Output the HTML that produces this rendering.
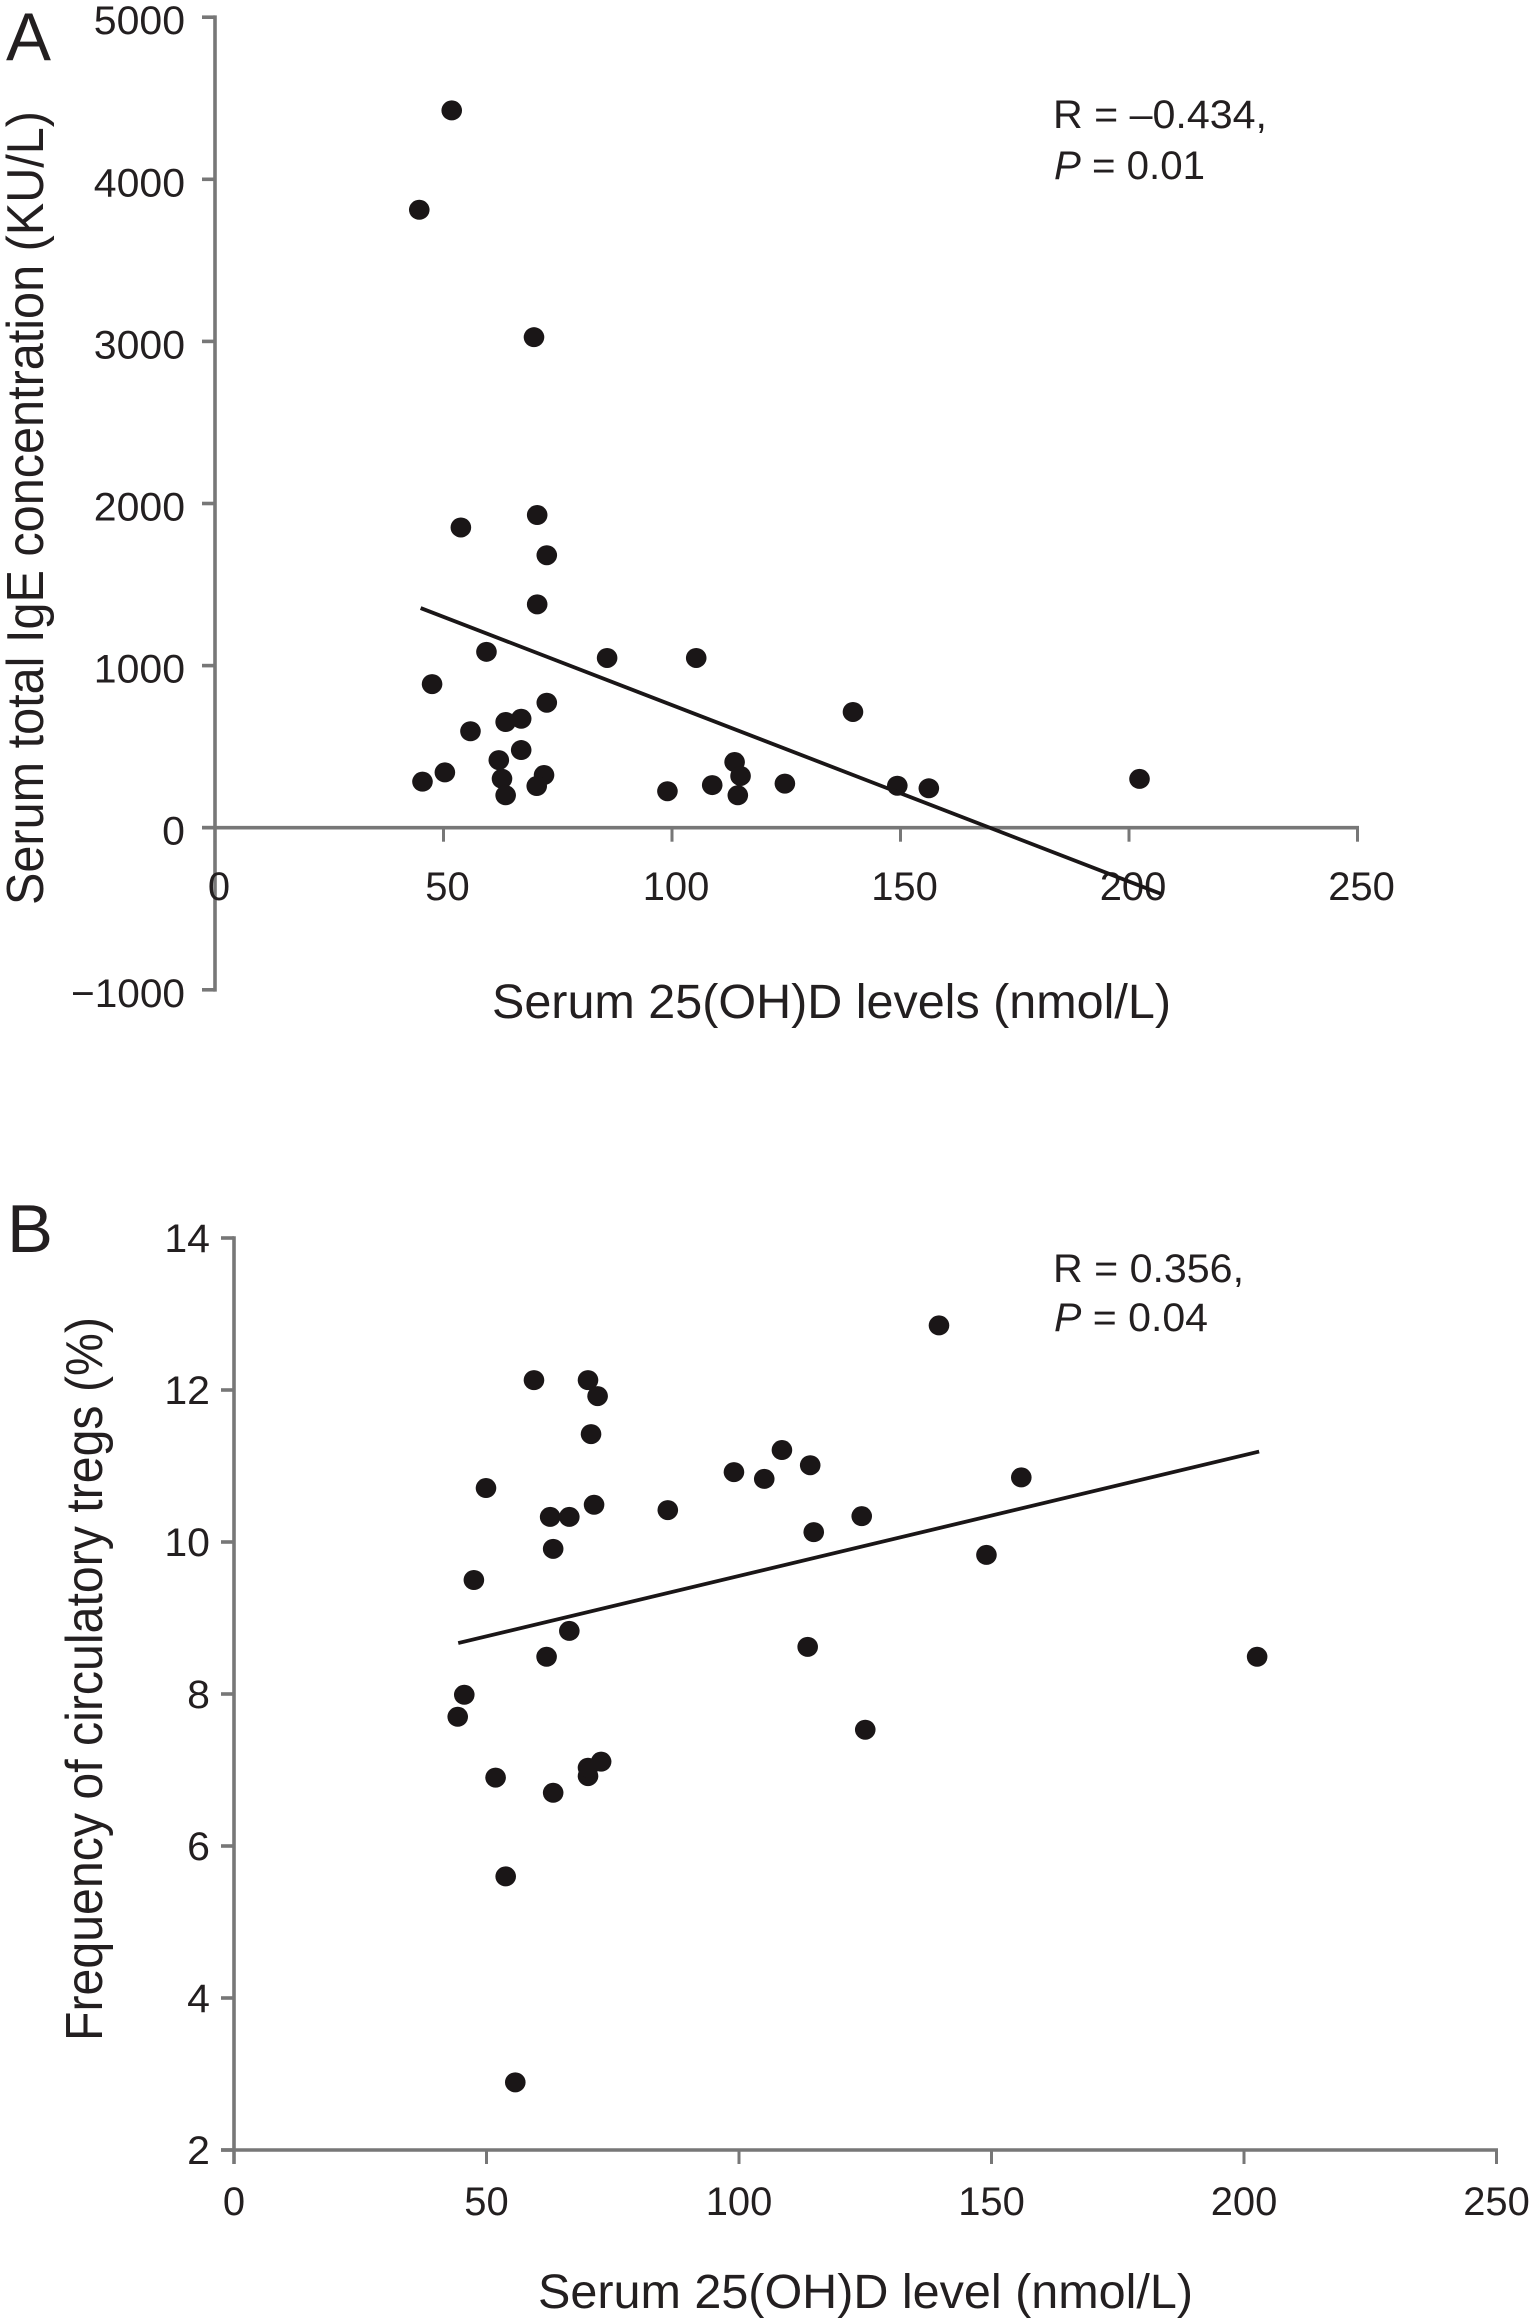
<!DOCTYPE html>
<html lang="en">
<head>
<meta charset="utf-8">
<title>Serum 25(OH)D correlations</title>
<style>
html,body{margin:0;padding:0;background:#fff;width:1531px;height:2321px;overflow:hidden}
svg{display:block}
text{font-family:"Liberation Sans",Arial,sans-serif;fill:#231f20}
</style>
</head>
<body>
<svg id="figure" xmlns="http://www.w3.org/2000/svg" width="1531" height="2321" viewBox="0 0 1531 2321">
  <rect width="1531" height="2321" fill="#fff"/>

  <g id="panelA">
    <text x="6" y="60" font-size="68" textLength="45" lengthAdjust="spacingAndGlyphs">A</text>
    <text transform="translate(43,905) rotate(-90)" font-size="52" textLength="794" lengthAdjust="spacingAndGlyphs">Serum total IgE concentration (KU/L)</text>
    <text x="492" y="1018" font-size="48" textLength="679" lengthAdjust="spacingAndGlyphs">Serum 25(OH)D levels (nmol/L)</text>
    <text x="1053" y="128" font-size="40" textLength="214" lengthAdjust="spacingAndGlyphs">R = –0.434,</text>
    <text x="1054" y="179" font-size="40" textLength="151" lengthAdjust="spacingAndGlyphs"><tspan font-style="italic">P</tspan> = 0.01</text>
  </g>

  <g id="panelB">
    <text x="7" y="1252" font-size="68" textLength="46" lengthAdjust="spacingAndGlyphs">B</text>
    <text transform="translate(102,2041) rotate(-90)" font-size="52" textLength="724" lengthAdjust="spacingAndGlyphs">Frequency of circulatory tregs (%)</text>
    <text x="538" y="2308" font-size="48" textLength="655" lengthAdjust="spacingAndGlyphs">Serum 25(OH)D level (nmol/L)</text>
    <text x="1053" y="1282" font-size="40" textLength="191" lengthAdjust="spacingAndGlyphs">R = 0.356,</text>
    <text x="1054" y="1331" font-size="40" textLength="154" lengthAdjust="spacingAndGlyphs"><tspan font-style="italic">P</tspan> = 0.04</text>
  </g>
</svg>

<script>
// Panel A data
const aXTicks = [0, 50, 100, 150, 200, 250];
const aXTickLabels = ["0", "50", "100", "150", "200", "250"];
const aYTicks = [-1000, 0, 1000, 2000, 3000, 4000, 5000];
const aYTickLabels = ["−1000", "0", "1000", "2000", "3000", "4000", "5000"];
const aVitaminD = [51.8, 44.7, 69.8, 70.5, 53.8, 72.6, 70.5, 59.4, 85.8, 105.3, 47.5, 72.6, 67, 63.6, 55.9, 67, 62.1, 50.3, 45.4, 62.8, 72, 70.4, 63.6, 99, 108.8, 113.7, 115, 114.4, 124.7, 139.6, 149.3, 156.2, 202.3];
const aIgE = [4425, 3812, 3026, 1929, 1852, 1681, 1378, 1085, 1047, 1047, 886, 771, 672, 652, 595, 479, 417, 341, 284, 302, 325, 257, 200, 225, 263, 405, 319, 200, 272, 714, 259, 243, 301];
const aTrendX = [45, 207];
const aTrendY = [1355, -408];

// Panel B data
const bXTicks = [0, 50, 100, 150, 200, 250];
const bXTickLabels = ["0", "50", "100", "150", "200", "250"];
const bYTicks = [2, 4, 6, 8, 10, 12, 14];
const bYTickLabels = ["2", "4", "6", "8", "10", "12", "14"];
const bVitaminD = [59.4, 70.1, 72, 70.7, 49.9, 71.3, 62.6, 66.4, 85.9, 63.2, 47.5, 66.4, 61.9, 45.6, 44.3, 99, 105, 51.8, 63.2, 70.1, 70.1, 72.7, 53.8, 55.7, 139.6, 108.5, 114.1, 155.9, 124.3, 114.8, 149, 113.6, 202.6, 125];
const bTregs = [12.13, 12.13, 11.92, 11.42, 10.71, 10.49, 10.33, 10.33, 10.42, 9.91, 9.5, 8.83, 8.49, 7.99, 7.7, 10.92, 10.83, 6.9, 6.7, 6.92, 7.03, 7.11, 5.6, 2.89, 12.85, 11.21, 11.01, 10.85, 10.34, 10.13, 9.83, 8.62, 8.49, 7.53];
const bTrendX = [44.4, 203];
const bTrendY = [8.67, 11.19];

const NS = "http://www.w3.org/2000/svg";
const AXIS_COLOR = "#777777";
const INK = "#1a1617";

function make(tag, parent, attrs) {
  const el = document.createElementNS(NS, tag);
  for (const k in attrs) el.setAttribute(k, attrs[k]);
  parent.appendChild(el);
  return el;
}

function drawPanel(cfg) {
  const group = document.getElementById(cfg.groupId);
  const xScale = v => cfg.x0 + v * cfg.xUnit;
  const yScale = v => cfg.yZero - (v - cfg.yBase) * cfg.yUnit;
  const yTop = yScale(cfg.yTicks[cfg.yTicks.length - 1]);
  const yBottom = yScale(cfg.yTicks[0]);
  const xAxisY = yScale(cfg.xCross);
  const xEnd = xScale(cfg.xTicks[cfg.xTicks.length - 1]);

  const yAxis = make("line", group, {x1: cfg.x0, x2: cfg.x0, y1: yTop - 1.8, y2: yBottom + cfg.yAxisExtra, stroke: AXIS_COLOR, "stroke-width": 3.6});
  
  

  const xAxis = make("line", group, {x1: cfg.x0 - 13, x2: xEnd + 1.5, y1: xAxisY, y2: xAxisY, stroke: AXIS_COLOR, "stroke-width": 3.6});
  
  

  cfg.yTicks.forEach((v, i) => {
    const y = yScale(v);
    const tick = make("line", group, {x1: cfg.x0 - 13, x2: cfg.x0, y1: y, y2: y, stroke: AXIS_COLOR, "stroke-width": 3.6});
    
    
    const text = cfg.yTickLabels[i];
    const label = make("text", group, {x: cfg.yLabelRight, y: y + cfg.yLabelDrop, "font-size": 40, "text-anchor": "end", textLength: text.length * 22.8, lengthAdjust: "spacingAndGlyphs"});
    label.textContent = text;
    
    
  });

  cfg.xTicks.forEach((v, i) => {
    const x = xScale(v);
    const tick = make("line", group, {x1: x, x2: x, y1: xAxisY, y2: xAxisY + 14, stroke: AXIS_COLOR, "stroke-width": 3});
    
    
    const text = cfg.xTickLabels[i];
    const label = make("text", group, {x: x + cfg.xLabelShift, y: cfg.xLabelY, "font-size": 40, "text-anchor": "middle", textLength: text.length * 22.2, lengthAdjust: "spacingAndGlyphs"});
    label.textContent = text;
    
    
  });

  cfg.xs.forEach((v, i) => {
    const dot = make("ellipse", group, {cx: xScale(v), cy: yScale(cfg.ys[i]), rx: 10.3, ry: 10, fill: INK});
    
    
  });

  const trend = make("line", group, {x1: xScale(cfg.trendX[0]), y1: yScale(cfg.trendY[0]), x2: xScale(cfg.trendX[1]), y2: yScale(cfg.trendY[1]), stroke: INK, "stroke-width": 3.8});
  
  
}

drawPanel({
  groupId: "panelA", x0: 215, xUnit: 4.57, yZero: 827.7, yBase: 0, yUnit: 0.1621, xCross: 0, yAxisExtra: 1.8,
  xTicks: aXTicks, xTickLabels: aXTickLabels, yTicks: aYTicks, yTickLabels: aYTickLabels,
  xs: aVitaminD, ys: aIgE, trendX: aTrendX, trendY: aTrendY,
  yLabelRight: 185, yLabelDrop: 17, xLabelShift: 4, xLabelY: 900
});

drawPanel({
  groupId: "panelB", x0: 234, xUnit: 5.05, yZero: 2150, yBase: 2, yUnit: 76, xCross: 2, yAxisExtra: 14,
  xTicks: bXTicks, xTickLabels: bXTickLabels, yTicks: bYTicks, yTickLabels: bYTickLabels,
  xs: bVitaminD, ys: bTregs, trendX: bTrendX, trendY: bTrendY,
  yLabelRight: 210, yLabelDrop: 14, xLabelShift: 0, xLabelY: 2215
});
</script>
</body>
</html>
